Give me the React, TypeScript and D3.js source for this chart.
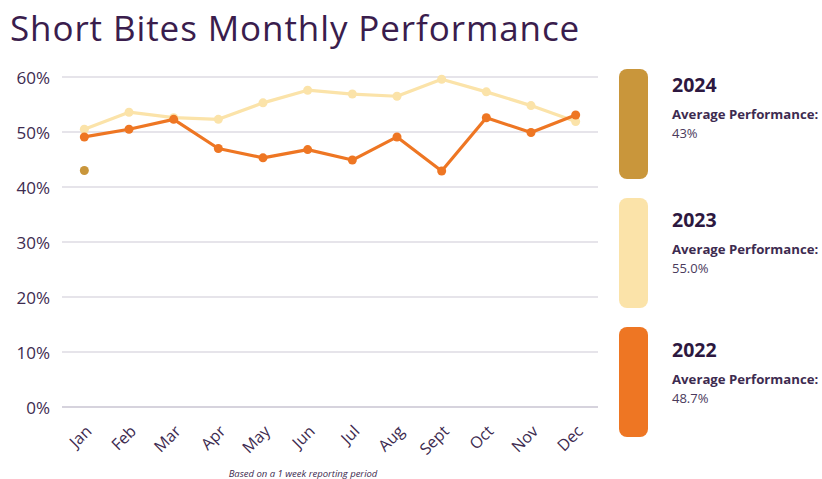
import { useEffect, useRef } from 'react'
import * as d3 from 'd3'

const MONTHS = ['Jan', 'Feb', 'Mar', 'Apr', 'May', 'Jun', 'Jul', 'Aug', 'Sept', 'Oct', 'Nov', 'Dec']
const Y_TICKS = [0, 10, 20, 30, 40, 50, 60]

const VALUES_2022 = [49.1, 50.5, 52.3, 47.0, 45.3, 46.8, 44.9, 49.1, 42.9, 52.6, 49.9, 53.1]
const VALUES_2023 = [50.5, 53.6, 52.6, 52.3, 55.3, 57.6, 56.9, 56.5, 59.6, 57.3, 54.8, 51.9]
const VALUES_2024 = [43.0]

const LEGEND = [
  { year: '2024', avg: '43%', color: '#c9963b' },
  { year: '2023', avg: '55.0%', color: '#fbe3a9' },
  { year: '2022', avg: '48.7%', color: '#ee7623' },
]

const TEXT = '#2d1840'
const FONT = '"Open Sans", Lato, sans-serif'

export default function App() {
  const svgRef = useRef<SVGSVGElement>(null)

  useEffect(() => {
    if (!svgRef.current) return
    const W = 822
    const H = 479
    const svg = d3.select(svgRef.current)
    svg.selectAll('*').remove()

    svg.append('rect').attr('width', W).attr('height', H).attr('fill', '#ffffff')

    // Title
    svg.append('text')
      .attr('x', 10).attr('y', 41)
      .attr('fill', '#3a1d4d')
      .attr('font-family', FONT)
      .attr('font-size', '35px')
      .attr('letter-spacing', '0.9px')
      .attr('font-weight', 400)
      .text('Short Bites Monthly Performance')

    const x = d3.scalePoint<string>().domain(MONTHS).range([62, 598]).padding(0.5)
    const y = d3.scaleLinear().domain([0, 60]).range([407, 77])

    // Gridlines
    svg.append('g').selectAll('line')
      .data(Y_TICKS)
      .enter()
      .append('line')
      .attr('x1', 62).attr('x2', 598)
      .attr('y1', d => y(d)).attr('y2', d => y(d))
      .attr('stroke', d => d === 0 ? '#c9c4d2' : '#dedbe3')
      .attr('stroke-width', 1.5)

    // Y labels
    svg.append('g').selectAll('text')
      .data(Y_TICKS)
      .enter()
      .append('text')
      .attr('x', 50).attr('y', d => y(d))
      .attr('text-anchor', 'end')
      .attr('dominant-baseline', 'central')
      .attr('fill', '#3d2b50')
      .attr('font-family', FONT)
      .attr('font-size', '17px')
      .text(d => `${d}%`)

    // X labels
    svg.append('g').selectAll('text')
      .data(MONTHS)
      .enter()
      .append('text')
      .attr('transform', d => `translate(${(x(d) ?? 0) + 4},${428}) rotate(-45)`)
      .attr('text-anchor', 'end')
      .attr('dominant-baseline', 'central')
      .attr('fill', '#3d2b50')
      .attr('font-family', FONT)
      .attr('font-size', '16px')
      .text(d => d)

    const line = d3.line<number>()
      .x((_, i) => x(MONTHS[i]) ?? 0)
      .y(d => y(d))

    const drawSeries = (vals: number[], color: string) => {
      svg.append('path')
        .datum(vals)
        .attr('d', line)
        .attr('fill', 'none')
        .attr('stroke', color)
        .attr('stroke-width', 3.2)
        .attr('stroke-linejoin', 'round')
      svg.append('g').selectAll('circle')
        .data(vals)
        .enter()
        .append('circle')
        .attr('cx', (_, i) => x(MONTHS[i]) ?? 0)
        .attr('cy', d => y(d))
        .attr('r', 4.5)
        .attr('fill', color)
    }

    drawSeries(VALUES_2023, LEGEND[1].color)
    drawSeries(VALUES_2022, LEGEND[2].color)
    drawSeries(VALUES_2024, LEGEND[0].color)

    // Footnote
    svg.append('text')
      .attr('x', 303).attr('y', 477)
      .attr('text-anchor', 'middle')
      .attr('fill', '#3d2b50')
      .attr('font-family', FONT)
      .attr('font-style', 'italic')
      .attr('font-size', '9.5px')
      .text('Based on a 1 week reporting period')

    // Legend: bars on a 129px pitch, text blocks a little lower for later items
    const textBase = [92, 227, 357]
    const lg = svg.append('g')
    LEGEND.forEach((l, i) => {
      const top = 69 + i * 129
      const ty = textBase[i]
      lg.append('rect')
        .attr('x', 619).attr('y', top)
        .attr('width', 29).attr('height', 110)
        .attr('rx', 8)
        .attr('fill', l.color)
      lg.append('text')
        .attr('x', 672).attr('y', ty)
        .attr('fill', TEXT)
        .attr('font-family', FONT)
        .attr('font-weight', 700)
        .attr('font-size', '19.5px')
        .text(l.year)
      lg.append('text')
        .attr('x', 672).attr('y', ty + 27)
        .attr('fill', '#3d2b50')
        .attr('font-family', FONT)
        .attr('font-weight', 700)
        .attr('font-size', '13.2px')
        .text('Average Performance:')
      lg.append('text')
        .attr('x', 672).attr('y', ty + 46)
        .attr('fill', '#4a3a5c')
        .attr('font-family', FONT)
        .attr('font-size', '13px')
        .text(l.avg)
    })
  }, [])

  return (
    <svg
      ref={svgRef}
      width={822}
      height={479}
      style={{ position: 'absolute', left: 0, top: 0, display: 'block' }}
    />
  )
}
